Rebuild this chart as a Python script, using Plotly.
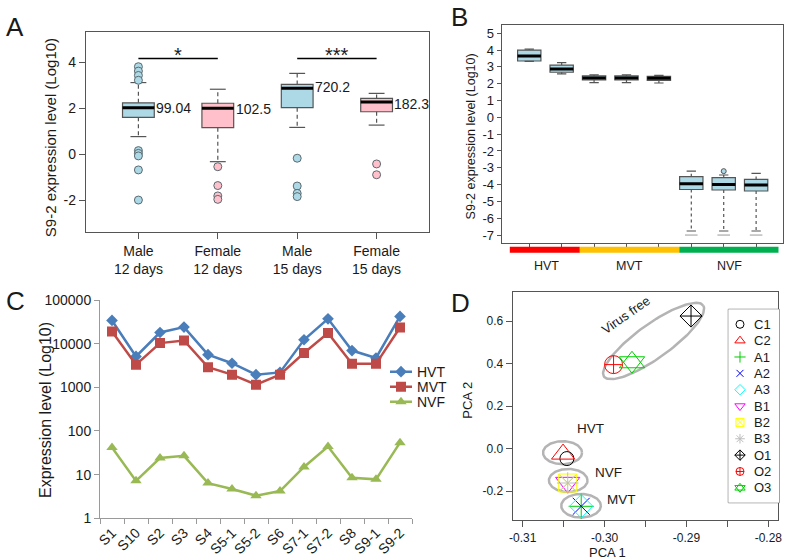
import numpy as np
import plotly.graph_objects as go

W, H = 787, 560
FONT = "Arial, Liberation Sans, sans-serif"
TXT = "#1a1a1a"
BOXLINE = "#555555"

# ---------------- Panel A data ----------------
a_labels = ["Male<br>12 days", "Female<br>12 days", "Male<br>15 days", "Female<br>15 days"]
a_pos = [1, 2, 3, 4]
a_q1 = [1.61, 1.16, 2.03, 1.85]
a_median = [2.02, 2.00, 2.87, 2.27]
a_q3 = [2.24, 2.22, 3.04, 2.43]
a_lower = [0.77, -0.32, 1.17, 1.27]
a_upper = [3.12, 2.83, 3.52, 2.65]
a_outliers = [[3.81, 3.62, 3.43, 3.22, 0.16, 0.04, -0.07, -0.68, -1.99],
              [-0.54, -1.36, -1.81, -1.96],
              [-0.17, -1.38, -1.70, -1.84],
              [-0.42, -0.89]]
a_fill = ["#ADD8E6", "#FFC0CB", "#ADD8E6", "#FFC0CB"]
a_value_text = ["99.04", "102.5", "720.2", "182.3"]
a_value_y = [2.03, 1.96, 2.94, 2.19]
a_sig_pairs = [(1, 2), (3, 4)]
a_sig_text = ["*", "***"]
a_sig_y = 4.17
a_yticks = [-2, 0, 2, 4]
a_yticktext = ["-2", "0", "2", "4"]

# ---------------- Panel B data ----------------
b_pos = [1, 2, 3, 4, 5, 6, 7, 8]
b_q1 = [3.35, 2.68, 2.22, 2.22, 2.20, -4.29, -4.32, -4.38]
b_median = [3.65, 2.87, 2.34, 2.34, 2.32, -3.95, -3.99, -4.03]
b_q3 = [4.00, 3.11, 2.46, 2.46, 2.44, -3.53, -3.59, -3.69]
b_lower = [3.33, 2.58, 2.06, 2.06, 2.04, -6.76, -6.76, -6.76]
b_upper = [4.05, 3.25, 2.52, 2.52, 2.50, -3.20, -3.43, -3.33]
b_out_pos = [7]
b_out_val = [-3.20]
b_low_out_pos = [6, 7, 8]
b_low_out_val = [-7.0, -7.0, -7.0]
b_yticks = list(range(-7, 6))
b_yticktext = [str(v) for v in b_yticks]
b_groups = ["HVT", "MVT", "NVF"]
b_group_colors = ["#FF0000", "#FFC000", "#00B050"]
b_group_start = [0.40, 2.56, 5.63]
b_group_end = [2.56, 5.63, 8.69]
b_group_label_x = [1.54, 4.09, 7.17]

# ---------------- Panel C data ----------------
c_cats = ["S1", "S10", "S2", "S3", "S4", "S5-1", "S5-2", "S6", "S7-1", "S7-2", "S8", "S9-1", "S9-2"]
c_hvt = [34000, 5100, 18000, 24000, 5600, 3560, 1950, 2200, 12300, 37000, 6950, 4700, 42000]
c_mvt = [19000, 3300, 10300, 11800, 2900, 1950, 1150, 1950, 6100, 17500, 3450, 3450, 23500]
c_nvf = [42, 7.2, 24, 27, 6.4, 4.7, 3.3, 4.2, 15, 44, 8.5, 7.8, 54]
c_yticks = [1, 10, 100, 1000, 10000, 100000]
c_yticktext = ["1", "10", "100", "1000", "10000", "100000"]

# ---------------- Panel D data ----------------
d_names = ["C1", "C2", "A1", "A2", "A3", "B1", "B2", "B3", "O1", "O2", "O3"]
d_x = [-0.30460, -0.30507, -0.30285, -0.30285, -0.30285, -0.30450, -0.30450, -0.30450,
       -0.28944, -0.29890, -0.29665]
d_y = [-0.047, -0.026, -0.2715, -0.2715, -0.2715, -0.160, -0.162, -0.162, 0.6235, 0.395, 0.406]
d_symbols = ["circle-open", "triangle-up-open", "cross-thin-open", "x-thin-open", "diamond-open",
             "triangle-down-open", "square-x-open", "asterisk-open", "diamond-cross-open",
             "circle-cross-open", "triangle-up-open"]
d_extra_symbol = "triangle-down-open"   # O3 is two overlapping triangles
d_colors = ["#000000", "#FF0000", "#00CD00", "#0000FF", "#00FFFF", "#FF00FF", "#FFFF00",
            "#BEBEBE", "#000000", "#FF0000", "#00CD00"]
d_sizes = [14, 20, 18, 17, 18, 21, 18, 18, 17, 18, 22]
d_leg_sizes = [8, 9, 8, 7, 8, 9, 8, 8, 8, 8, 9]
d_xticks = [-0.31, -0.30, -0.29, -0.28]
d_xticktext = ["-0.31", "-0.30", "-0.29", "-0.28"]
d_yticks = [-0.2, 0.0, 0.2, 0.4, 0.6]
d_yticktext = ["-0.2", "0.0", "0.2", "0.4", "0.6"]
d_ell_cx = [-0.30513, -0.30444, -0.30287, -0.29401]
d_ell_cy = [-0.0193, -0.150, -0.269, 0.506]
d_ell_a = [19.5, 19.3, 19.8, 61.0]
d_ell_b = [11.5, 11.5, 11.8, 17.0]
d_ell_ang = [0, 0, 0, 35.7]

# ---------------- layout geometry ----------------
def fx(p):
    return p / W


def fy(p):
    return 1 - p / H


A_X = [fx(86), fx(429)]
A_Y = [fy(232), fy(32)]
B_X = [fx(501.7), fx(782.7)]
B_Y = [fy(243.3), fy(25)]
C_X = [fx(100), fx(412)]
C_Y = [fy(518.3), fy(300)]
D_X = [fx(512.7), fx(778.3)]
D_Y = [fy(520), fy(291.7)]
L_X = [fx(728.3), fx(779.3)]
L_Y = [fy(502.7), fy(309.3)]
K_X = [fx(390), fx(412)]          # panel C key: line samples
K_Y = [fy(409.2), fy(364.2)]
K_TXT_X = fx(414.5)
A_RX = [0.34, 4.66]
A_RY = [-3.38, 5.32]
B_RX = [0.15, 8.82]
B_RY = [-7.49, 5.49]
C_RX = [-0.5, len(c_cats) - 0.5]
D_RX = [-0.31122, -0.27878]
D_RY = [-0.336, 0.738]
L_RX = [0, 51]
L_RY = [10.91, -0.917]
L_SYM_X = 11.7
L_TXT_X = 23.5

fig = go.Figure()


def add_boxes(xa, ya, pos, q1, med, q3, lo, hi, fills, bw, capfrac, dash):
    for i, p in enumerate(pos):
        fig.add_trace(go.Box(x=[p], q1=[q1[i]], median=[med[i]], q3=[q3[i]],
                             lowerfence=[q1[i]], upperfence=[q3[i]], width=bw,
                             fillcolor=fills[i], line=dict(color=BOXLINE, width=1.2),
                             whiskerwidth=0, boxpoints=False, hoverinfo="skip",
                             showlegend=False, xaxis=xa, yaxis=ya))
    for i, p in enumerate(pos):
        fig.add_trace(go.Scatter(x=[p, p, None, p, p], y=[q3[i], hi[i], None, q1[i], lo[i]],
                                 mode="lines", line=dict(color=BOXLINE, width=1.2, dash=dash),
                                 showlegend=False, hoverinfo="skip", xaxis=xa, yaxis=ya))
        c = bw * capfrac / 2
        fig.add_trace(go.Scatter(x=[p - c, p + c, None, p - c, p + c],
                                 y=[hi[i], hi[i], None, lo[i], lo[i]],
                                 mode="lines", line=dict(color=BOXLINE, width=1.2),
                                 showlegend=False, hoverinfo="skip", xaxis=xa, yaxis=ya))
        fig.add_trace(go.Scatter(x=[p - bw / 2, p + bw / 2], y=[med[i], med[i]],
                                 mode="lines", line=dict(color="black", width=3),
                                 showlegend=False, hoverinfo="skip", xaxis=xa, yaxis=ya))


# ---------- Panel A ----------
add_boxes("x", "y", a_pos, a_q1, a_median, a_q3, a_lower, a_upper, a_fill, 0.4, 0.5, "4px,3px")
for i, p in enumerate(a_pos):
    fig.add_trace(go.Scatter(x=[p] * len(a_outliers[i]), y=a_outliers[i], mode="markers",
                             marker=dict(symbol="circle", size=8, color=a_fill[i],
                                         line=dict(color="#5a6a70", width=1)),
                             showlegend=False, hoverinfo="skip", xaxis="x", yaxis="y"))

# ---------- Panel B ----------
add_boxes("x2", "y2", b_pos, b_q1, b_median, b_q3, b_lower, b_upper, ["#ADD8E6"] * 8,
          0.72, 0.4, "3px,3px")
fig.add_trace(go.Scatter(x=b_out_pos, y=b_out_val, mode="markers",
                         marker=dict(symbol="circle", size=5, color="#ADD8E6",
                                     line=dict(color=BOXLINE, width=1)),
                         showlegend=False, hoverinfo="skip", xaxis="x2", yaxis="y2"))
fig.add_trace(go.Scatter(x=b_low_out_pos, y=b_low_out_val, mode="markers",
                         marker=dict(symbol="line-ew-open", size=9, color="#9a9a9a",
                                     line=dict(color="#9a9a9a", width=1)),
                         showlegend=False, hoverinfo="skip", xaxis="x2", yaxis="y2"))

# ---------- Panel C ----------
c_series = [("HVT", c_hvt, "#4A7EBB", "diamond", 9),
            ("MVT", c_mvt, "#BE4B48", "square", 10),
            ("NVF", c_nvf, "#98B954", "triangle-up", 10)]
for name, vals, col, sym, sz in c_series:
    fig.add_trace(go.Scatter(x=c_cats, y=vals, name=name, mode="lines+markers",
                             line=dict(color=col, width=2.5),
                             marker=dict(symbol=sym, size=sz, color=col),
                             showlegend=False, xaxis="x3", yaxis="y3"))
# key for panel C (Excel-style legend entries)
for i, (name, vals, col, sym, sz) in enumerate(c_series):
    fig.add_trace(go.Scatter(x=[0, 1], y=[i, i], mode="lines", hoverinfo="skip",
                             line=dict(color=col, width=2.5),
                             showlegend=False, xaxis="x6", yaxis="y6"))
    fig.add_trace(go.Scatter(x=[0.5], y=[i], mode="markers", hoverinfo="skip",
                             marker=dict(symbol=sym, size=sz, color=col),
                             showlegend=False, xaxis="x6", yaxis="y6"))

# ---------- Panel D ----------
sx = (D_X[1] - D_X[0]) * W / (D_RX[1] - D_RX[0])
sy = (D_Y[1] - D_Y[0]) * H / (D_RY[1] - D_RY[0])
t = np.linspace(0, 2 * np.pi, 120)
for cx, cy, a, b, ang in zip(d_ell_cx, d_ell_cy, d_ell_a, d_ell_b, d_ell_ang):
    th = np.deg2rad(ang)
    ex = a * np.cos(t) * np.cos(th) - b * np.sin(t) * np.sin(th)
    ey = a * np.cos(t) * np.sin(th) + b * np.sin(t) * np.cos(th)
    fig.add_trace(go.Scatter(x=cx + ex / sx, y=cy + ey / sy, mode="lines",
                             line=dict(color="#B4B4B4", width=2.5),
                             showlegend=False, hoverinfo="skip", xaxis="x4", yaxis="y4"))
for i, nm in enumerate(d_names):
    fig.add_trace(go.Scatter(x=[d_x[i]], y=[d_y[i]], name=nm, mode="markers",
                             marker=dict(symbol=d_symbols[i], size=d_sizes[i],
                                         color=d_colors[i],
                                         line=dict(color=d_colors[i], width=1)),
                             showlegend=False, xaxis="x4", yaxis="y4"))
fig.add_trace(go.Scatter(x=[d_x[10]], y=[d_y[10]], mode="markers",
                         marker=dict(symbol=d_extra_symbol, size=d_sizes[10],
                                     color=d_colors[10], line=dict(color=d_colors[10], width=1)),
                         showlegend=False, xaxis="x4", yaxis="y4"))

# key for panel D (drawn as its own small box, like R's legend())
rows = list(range(len(d_names)))
for i in rows:
    fig.add_trace(go.Scatter(x=[L_SYM_X], y=[i], mode="markers", hoverinfo="skip",
                             marker=dict(symbol=d_symbols[i], size=d_leg_sizes[i],
                                         color=d_colors[i],
                                         line=dict(color=d_colors[i], width=1)),
                             showlegend=False, xaxis="x5", yaxis="y5"))
fig.add_trace(go.Scatter(x=[L_SYM_X], y=[rows[10]], mode="markers", hoverinfo="skip",
                         marker=dict(symbol=d_extra_symbol, size=d_leg_sizes[10],
                                     color=d_colors[10], line=dict(color=d_colors[10], width=1)),
                         showlegend=False, xaxis="x5", yaxis="y5"))

# ---------- axes ----------
frame = dict(showline=True, mirror=True, linecolor=BOXLINE, linewidth=1.3, showgrid=False,
             zeroline=False, ticks="outside", tickcolor=BOXLINE, tickwidth=1.2,
             tickfont=dict(family=FONT, size=14, color=TXT))
hidden = dict(visible=False, showgrid=False, zeroline=False, fixedrange=True)
fig.update_layout(
    xaxis=dict(frame, domain=A_X, range=A_RX, tickvals=a_pos, ticktext=a_labels, ticklen=6,
               anchor="y"),
    yaxis=dict(frame, domain=A_Y, range=A_RY, tickvals=a_yticks, ticktext=a_yticktext,
               ticklen=6, anchor="x"),
    xaxis2=dict(frame, domain=B_X, range=B_RX, tickvals=b_pos, showticklabels=False,
                ticklen=4, anchor="y2"),
    yaxis2=dict(frame, domain=B_Y, range=B_RY, tickvals=b_yticks, ticktext=b_yticktext,
                ticklen=4, anchor="x2", tickfont=dict(family=FONT, size=13, color=TXT)),
    xaxis3=dict(domain=C_X, type="category", range=C_RX, showline=True, linecolor="#9a9a9a",
                linewidth=1, showgrid=False, zeroline=False, ticks="outside",
                tickson="boundaries", ticklen=5, tickcolor="#9a9a9a", tickangle=-45,
                anchor="y3", tickfont=dict(family=FONT, size=14, color=TXT)),
    yaxis3=dict(domain=C_Y, type="log", range=[0, 5], tickvals=c_yticks,
                ticktext=c_yticktext, showline=True, linecolor="#9a9a9a", linewidth=1,
                showgrid=False, zeroline=False, ticks="outside", ticklen=5,
                tickcolor="#9a9a9a", anchor="x3",
                tickfont=dict(family=FONT, size=14, color=TXT)),
    xaxis4=dict(frame, domain=D_X, range=D_RX, tickvals=d_xticks, ticktext=d_xticktext,
                ticklen=6, anchor="y4", tickfont=dict(family=FONT, size=12, color=TXT),
                minor=dict(dtick=0.005, tick0=-0.31, ticks="outside", ticklen=6,
                           tickcolor=BOXLINE, showgrid=False)),
    yaxis4=dict(frame, domain=D_Y, range=D_RY, tickvals=d_yticks, ticktext=d_yticktext,
                ticklen=6, anchor="x4", tickfont=dict(family=FONT, size=12, color=TXT)),
    xaxis5=dict(hidden, domain=L_X, range=L_RX, anchor="y5"),
    yaxis5=dict(hidden, domain=L_Y, range=L_RY, anchor="x5"),
    xaxis6=dict(hidden, domain=K_X, range=[0, 1], anchor="y6"),
    yaxis6=dict(hidden, domain=K_Y, range=[2.5, -0.5], anchor="x6"),
)

# ---------- shapes ----------
shapes = []
for (p0, p1) in a_sig_pairs:
    shapes.append(dict(type="line", xref="x", yref="y", x0=p0, x1=p1, y0=a_sig_y, y1=a_sig_y,
                       line=dict(color="black", width=1.5)))
for s, e, col in zip(b_group_start, b_group_end, b_group_colors):
    shapes.append(dict(type="rect", xref="x2", yref="paper", x0=s, x1=e,
                       y0=fy(252.7), y1=fy(246.7), line=dict(width=0), fillcolor=col))
shapes.append(dict(type="rect", xref="paper", yref="paper", x0=L_X[0], x1=L_X[1],
                   y0=L_Y[0], y1=L_Y[1], line=dict(color=BOXLINE, width=1),
                   fillcolor="white", layer="below"))
fig.update_layout(shapes=shapes)

# ---------- annotations ----------
ann = []


def txt(x, y, s, size, xref="paper", yref="paper", xanchor="center", yanchor="middle", **kw):
    d = dict(x=x, y=y, text=s, showarrow=False, xref=xref, yref=yref,
             xanchor=xanchor, yanchor=yanchor,
             font=dict(family=FONT, size=size, color=TXT))
    d.update(kw)
    ann.append(d)


# panel letters
txt(fx(15), fy(27), "A", 26)
txt(fx(459), fy(17), "B", 26)
txt(fx(15), fy(301), "C", 26)
txt(fx(460), fy(303), "D", 26)
# axis titles
txt(fx(50.7), fy(137.5), "S9-2 expression level (Log10)", 15, textangle=-90)
txt(fx(470.7), fy(136.7), "S9-2 expression level (Log10)", 12.5, textangle=-90)
txt(fx(45.5), fy(410.5), "Expression level (Log10)", 16, textangle=-90)
txt(fx(466.7), fy(400), "PCA 2", 13, textangle=-90)
txt(fx(607.3), fy(552), "PCA 1", 13)
# Panel A values & significance
for p, s, yv in zip(a_pos, a_value_text, a_value_y):
    txt(p + 0.2, yv, s, 14, xref="x", yref="y", xanchor="left")
for (p0, p1), s in zip(a_sig_pairs, a_sig_text):
    txt((p0 + p1) / 2, a_sig_y, s, 20, xref="x", yref="y", yshift=3)
# Panel B groups
for xg, g in zip(b_group_label_x, b_groups):
    txt(xg, fy(266), g, 12.5, xref="x2")
# Panel C key labels
for i, ser in enumerate(c_series):
    txt(K_TXT_X, i, ser[0], 14, yref="y6", xanchor="left")
# Panel D labels
txt(fx(590), fy(428.3), "HVT", 13.5)
txt(fx(608.3), fy(472.7), "NVF", 13.5)
txt(fx(621.7), fy(499.3), "MVT", 13.5)
txt(fx(625), fy(315), "Virus free", 13, textangle=-35)
# key labels for panel D
for i, nm in enumerate(d_names):
    txt(L_TXT_X, i, nm, 13, xref="x5", yref="y5", xanchor="left")
fig.update_layout(annotations=ann)

fig.update_layout(width=W, height=H, showlegend=False,
                  margin=dict(l=0, r=0, t=0, b=0, pad=0, autoexpand=False),
                  paper_bgcolor="white", plot_bgcolor="white", boxmode="overlay",
                  font=dict(family=FONT, color=TXT))

fig.write_html("out.html", config={"displayModeBar": False},
               post_script="document.body.style.margin='0px';")
